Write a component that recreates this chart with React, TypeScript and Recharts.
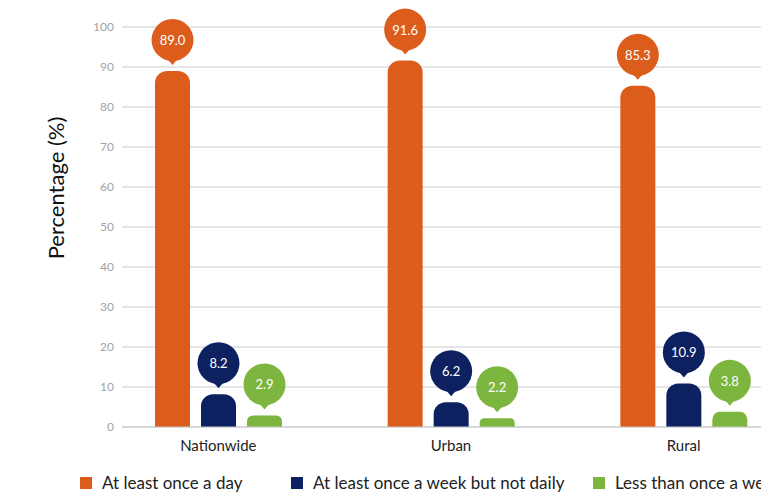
import { Bar, BarChart, CartesianGrid, LabelList, Legend, XAxis, YAxis } from "recharts";

// Frequency of use by area, in percent
const categories = ["Nationwide", "Urban", "Rural"];
const dailyValues = [89.0, 91.6, 85.3];
const weeklyValues = [8.2, 6.2, 10.9];
const rareValues = [2.9, 2.2, 3.8];

const seriesNames = [
  "At least once a day",
  "At least once a week but not daily",
  "Less than once a week",
];
const seriesKeys = ["daily", "weekly", "rare"];
const seriesColors = ["#DC5C1C", "#0D2160", "#7DB63E"];
const yTicks = [0, 10, 20, 30, 40, 50, 60, 70, 80, 90, 100];

const data = categories.map((name, i) => ({
  name,
  daily: dailyValues[i],
  weekly: weeklyValues[i],
  rare: rareValues[i],
}));

const FONT = "Lato, 'Open Sans', sans-serif";
const CHART_W = 840;
const CHART_H = 493;

// speech-bubble value label sitting above each bar
function makeBubble(color: string) {
  return function Bubble(props: any) {
    const { x, y, width, value } = props;
    const cx = Number(x) + Number(width) / 2;
    const top = Number(y);
    const r = 21;
    const cy = top - 31;
    const tip = top - 6;
    return (
      <g>
        <path d={`M${cx - 6},${cy + r - 3} L${cx},${tip} L${cx + 6},${cy + r - 3} Z`} fill={color} />
        <circle cx={cx} cy={cy} r={r} fill={color} />
        <text
          x={cx}
          y={cy}
          fill="#fff"
          fontSize={13}
          fontFamily={FONT}
          textAnchor="middle"
          dominantBaseline="central"
        >
          {Number(value).toFixed(1)}
        </text>
      </g>
    );
  };
}

function LegendRow() {
  const itemWidths = [211, 302, undefined];
  return (
    <div
      style={{
        display: "flex",
        alignItems: "center",
        height: 26,
        paddingTop: 5,
        paddingLeft: 80,
        boxSizing: "border-box",
        fontFamily: FONT,
        fontSize: 17,
        lineHeight: "20px",
        color: "#222",
        whiteSpace: "nowrap",
      }}
    >
      {seriesNames.map((name, i) => (
        <div key={name} style={{ display: "flex", alignItems: "center", width: itemWidths[i], flexShrink: 0 }}>
          <span style={{ width: 12, height: 12, background: seriesColors[i], marginRight: 10 }} />
          <span>{name}</span>
        </div>
      ))}
    </div>
  );
}

export default function App() {
  return (
    <div
      style={{
        position: "fixed",
        left: 0,
        top: 0,
        width: 761,
        height: 493,
        overflow: "hidden",
        background: "#fff",
      }}
    >
      <BarChart
        width={CHART_W}
        height={CHART_H}
        data={data}
        margin={{ top: 27, right: 40, left: 40, bottom: 0 }}
        barSize={35}
        barGap={11}
      >
        <CartesianGrid stroke="#CBCBCB" vertical={false} />
        <XAxis
          dataKey="name"
          height={40}
          padding={{ left: -20, right: 0 }}
          tickLine={false}
          axisLine={{ stroke: "#CBCBCB" }}
          tickMargin={7}
          tick={{ fontSize: 15, fill: "#222", fontFamily: FONT }}
        />
        <YAxis
          width={82}
          domain={[0, 100]}
          ticks={yTicks}
          tickLine={false}
          axisLine={false}
          tick={{ fontSize: 12, fill: "#A3A3A3", fontFamily: FONT }}
          label={({ viewBox }: any) => (
            <text
              transform={`translate(${viewBox.x + 15}, ${viewBox.y + viewBox.height / 2 - 39}) rotate(-90)`}
              textAnchor="middle"
              dominantBaseline="central"
              fontSize={22}
              fontFamily={FONT}
              fill="#111"
            >
              Percentage (%)
            </text>
          )}
        />
        <Legend
          verticalAlign="bottom"
          content={() => <LegendRow />}
          wrapperStyle={{ left: 0, bottom: 0, width: CHART_W, height: 26 }}
        />
        {seriesKeys.map((key, i) => (
          <Bar
            key={key}
            dataKey={key}
            name={seriesNames[i]}
            fill={seriesColors[i]}
            radius={[12, 12, 0, 0]}
            isAnimationActive={false}
          >
            <LabelList dataKey={key} content={makeBubble(seriesColors[i])} />
          </Bar>
        ))}
      </BarChart>
    </div>
  );
}
